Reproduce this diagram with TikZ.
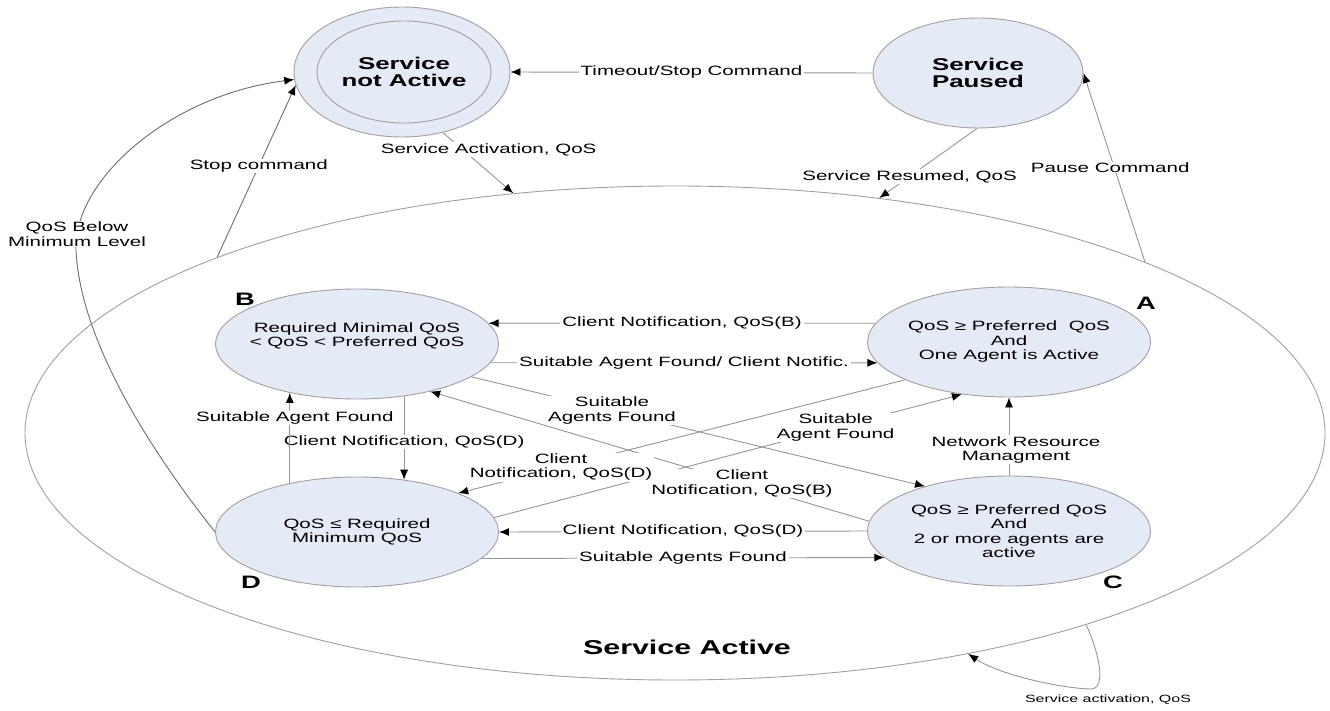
\documentclass[tikz,border=0pt]{standalone}
\usepackage{fontspec}
\setmainfont{Liberation Sans}[FakeStretch=1.52]
\usetikzlibrary{arrows.meta,shapes.geometric}
\definecolor{stfill}{HTML}{E4EAF6}
\definecolor{stline}{HTML}{A0A0A0}
\definecolor{cline}{HTML}{959595}
\definecolor{dline}{HTML}{6E6E6E}
\newcommand{\lblfont}{\fontsize{13.5}{14.5}\selectfont}
\begin{document}
\begin{tikzpicture}[x=1pt,y=-1pt,
  st/.style={ellipse, draw=stline, fill=stfill, line width=0.9pt, inner sep=0pt, minimum width=283pt, minimum height=110pt},
  stt/.style={align=center, font=\lblfont},
  conn/.style={draw=cline, line width=0.9pt, -{Latex[length=10pt,width=8pt,color=black]}},
  lbl/.style={fill=white, inner xsep=2pt, inner ysep=1pt, align=center, font=\lblfont, text=black},
  letter/.style={font=\fontsize{18}{18}\selectfont\bfseries},
  big/.style={font=\fontsize{17}{17.5}\selectfont\bfseries, align=center},
]
\fill[white] (0,0) rectangle (1330,711);
\useasboundingbox (0,0) rectangle (1330,711);

% big Service Active ellipse
\node[ellipse, draw=stline, line width=0.9pt, minimum width=1300pt, minimum height=494pt, inner sep=0pt] (SA) at (675,433) {};
\node[font=\fontsize{20}{22}\selectfont\bfseries] (SAt) at (687,647) {Service Active};

% top states
\node[st, minimum width=216pt, minimum height=130pt] (NA) at (402,72) {};
\node[st, minimum width=174pt, minimum height=102pt, label={[big]center:Service\\not Active}] (NAi) at (404,72) {};
\node[st, minimum width=210pt, minimum height=110pt, label={[big]center:Service\\Paused}] (SP) at (978,73) {};

% inner states
\node[st, label={[stt, yshift=8pt]center:Required Minimal QoS\\< QoS < Preferred QoS}] (B) at (357,344) {};
\node[st, label={[stt]center:QoS ≥ Preferred\ \ QoS\\And\\One Agent is Active}] (A) at (1009,342) {};
\node[st, label={[stt]center:QoS ≤ Required\\Minimum QoS}] (D) at (357,532) {};
\node[st, label={[stt]center:QoS ≥ Preferred QoS\\And\\2 or more agents are\\active}] (C) at (1009,531) {};

\node[letter] (lB) at (245,299) {B};
\node[letter] (lA) at (1146,303) {A};
\node[letter] (lD) at (251,582) {D};
\node[letter] (lC) at (1113,582) {C};

% connectors between top states
\draw[conn] (SP.west) -- node[lbl]{Timeout/Stop Command} (NA.east);
\draw[conn, draw=dline] (SA.159) -- node[lbl, pos=0.53]{Stop command} (NA.187);
\coordinate (qb) at (76,250);
\draw[conn, draw=dline] (D.west) .. controls (150,450) and (80,340) .. (qb) .. controls (73,180) and (170,95) .. (NA.184);
\node[lbl] (lQ) at (77,234) {QoS Below\\Minimum Level};
\draw[conn] (NA.304) -- node[lbl, pos=0.28, xshift=26pt]{Service Activation, QoS} (SA.124);
\draw[conn] (SP.269) -- node[lbl, pos=0.69]{Service Resumed, QoS} (SA.49);
\draw[conn] (SA.20) -- node[lbl, xshift=-4pt]{Pause Command} (SP.east);

% connectors between inner states
\draw[conn] (A.172) -- node[lbl]{Client Notification, QoS(B)} (B.9);
\draw[conn] (B.352) -- node[lbl]{Suitable Agent Found/ Client Notific.} (A.189);
\draw[conn] (D.6) -- node[lbl, pos=0.73]{Suitable\\Agent Found} (A.228);
\draw[conn] (B.344) -- node[lbl, pos=0.31]{Suitable\\Agents Found} (C.152);
\draw[conn] (C.176) -- node[lbl, pos=0.29]{Client\\Notification, QoS(B)} (B.327);
\draw[conn] (A.200) -- node[lbl, pos=0.77]{Client\\Notification, QoS(D)} (D.21);
\draw[conn] (B.312) -- node[lbl, pos=0.55]{Client Notification, QoS(D)} (D.48);
\draw[conn] (D.144) -- node[lbl, pos=0.72, xshift=5pt]{Suitable Agent Found} (B.216);
\draw[conn] (C.north) -- node[lbl, pos=0.33, xshift=7pt]{Network Resource\\Managment} (A.south);
\draw[conn] (C.west) -- node[lbl]{Client Notification, QoS(D)} (D.east);
\draw[conn] (D.348) -- node[lbl]{Suitable Agents Found} (C.192);

% self loop on Service Active
\draw[conn] (SA.335) .. controls (1098,650) and (1108,690) .. (1090,689) .. controls (1060,688) and (1000,675) .. (SA.323);
\node[font=\fontsize{10.5}{12}\selectfont] (lSa) at (1108,700) {Service activation, QoS};
\end{tikzpicture}
\end{document}
